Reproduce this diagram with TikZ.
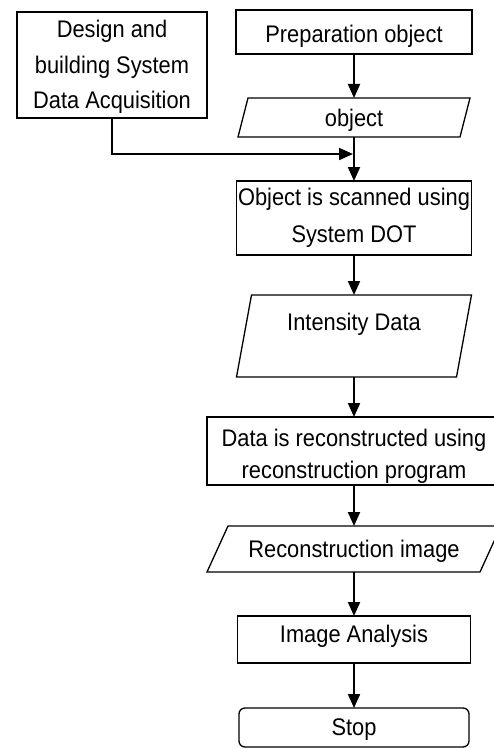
\documentclass[tikz,border=0pt]{standalone}
\usepackage{fontspec}
\setmainfont{Liberation Sans}[FakeStretch=0.91]
\usetikzlibrary{arrows.meta}
\begin{document}
\begin{tikzpicture}[x=1pt,y=-1pt,
  box/.style={draw, line width=1.3pt, inner sep=0pt, outer sep=0pt},
  frame/.style={inner sep=0pt, outer sep=0pt},
  iopath/.style={draw, line width=1.3pt, line join=miter},
  lbl/.style={anchor=base, inner sep=0pt, align=center, font=\fontsize{24}{35.5}\selectfont},
  flow/.style={line width=2pt, -{Triangle[length=14pt,width=12pt]}},
]
\useasboundingbox (0,0) rectangle (494,749);

% shapes
\node[box, minimum width=190pt, minimum height=106pt] (design) at (112,65) {};
\node[box, minimum width=236pt, minimum height=44pt] (prep) at (354,32) {};
\node[frame, minimum width=232pt, minimum height=39pt] (obj) at (354,117.5) {};
\draw[iopath] ([xshift=10pt]obj.north west) -- (obj.north east) -- ([xshift=-10pt]obj.south east) -- (obj.south west) -- cycle;
\node[box, minimum width=235pt, minimum height=74pt] (scan) at (354,218) {};
\node[frame, minimum width=235pt, minimum height=82pt] (int) at (354,336) {};
\draw[iopath] ([xshift=15pt]int.north west) -- (int.north east) -- ([xshift=-15pt]int.south east) -- (int.south west) -- cycle;
\node[box, minimum width=294pt, minimum height=68pt] (data) at (354,451) {};
\node[frame, minimum width=294pt, minimum height=46pt] (rec) at (354,549) {};
\draw[iopath] ([xshift=21pt]rec.north west) -- (rec.north east) -- ([xshift=-21pt]rec.south east) -- (rec.south west) -- cycle;
\node[box, minimum width=233pt, minimum height=47pt] (ia) at (354,639.5) {};
\node[box, rounded corners=6pt, minimum width=230pt, minimum height=39pt] (stop) at (354,727.5) {};

% texts (base anchor = baseline of the last line)
\node[lbl] (designT) at (112,109) {Design and\\building System\\Data Acquisition};
\node[lbl] (prepT) at (354,43) {Preparation object};
\node[lbl] (objT) at (354,126) {object};
\node[lbl, font=\fontsize{24}{37}\selectfont] (scanT) at (354,242) {Object is scanned using\\System DOT};
\node[lbl] (intT) at (354,330) {Intensity Data};
\node[lbl, font=\fontsize{24}{32}\selectfont] (dataT) at (354,478) {Data is reconstructed using\\reconstruction program};
\node[lbl] (recT) at (354,557) {Reconstruction image};
\node[lbl] (iaT) at (354,642) {Image Analysis};
\node[lbl] (stopT) at (354,735) {Stop};

% connectors
\coordinate (join) at (353,154);
\draw[flow] (prep) -- (obj);
\draw[flow] (obj) -- (scan);
\draw[flow] (design.south) |- (join);
\draw[flow] (scan) -- (int);
\draw[flow] (int) -- (data);
\draw[flow] (data) -- (rec);
\draw[flow] (rec) -- (ia);
\draw[flow] (ia) -- (stop);
\end{tikzpicture}
\end{document}
